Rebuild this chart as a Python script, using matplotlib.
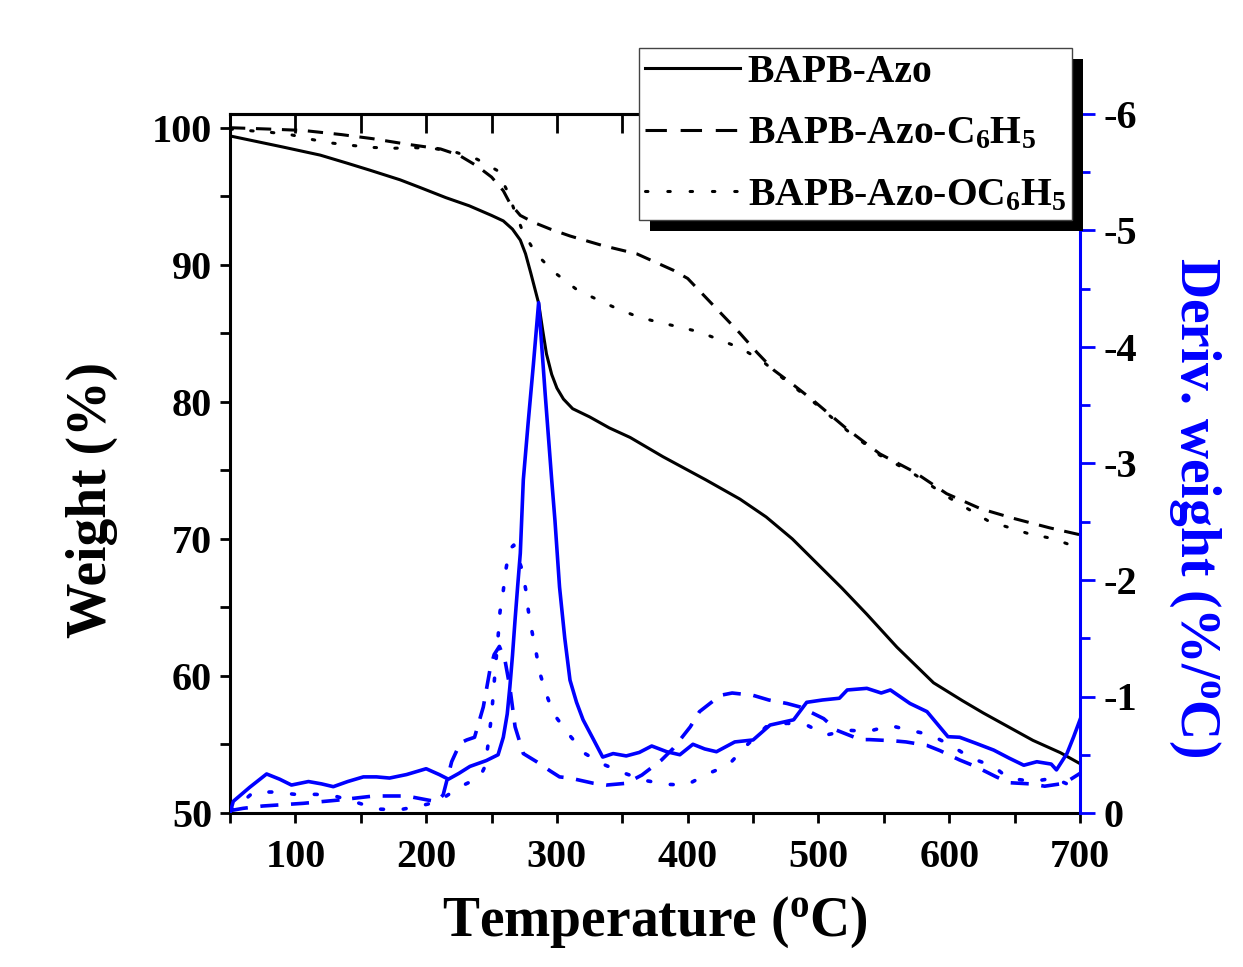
import matplotlib
matplotlib.use("Agg")
import matplotlib.pyplot as plt
from matplotlib.ticker import MultipleLocator
from matplotlib.patches import Rectangle
from matplotlib.lines import Line2D

plt.rcParams['font.family'] = ['Liberation Serif', 'DejaVu Serif']
plt.rcParams['font.weight'] = 'bold'
plt.rcParams['mathtext.fontset'] = 'custom'
plt.rcParams['mathtext.rm'] = 'Liberation Serif:bold'
plt.rcParams['mathtext.it'] = 'Liberation Serif:bold'
plt.rcParams['mathtext.bf'] = 'Liberation Serif:bold'
plt.rcParams['axes.unicode_minus'] = False

# ---------------- data ----------------
labels = ["BAPB-Azo", r"BAPB-Azo-C$\mathrm{_6}$H$\mathrm{_5}$", r"BAPB-Azo-OC$\mathrm{_6}$H$\mathrm{_5}$"]

# TGA weight curves
t_azo = [50, 70, 90, 119, 140, 157, 180, 195, 215, 233, 250, 259, 266, 272, 276, 280, 283, 286, 289,
         292, 296, 300, 305, 312, 325, 340, 356, 381, 414, 440, 460, 480, 499, 518, 537, 560, 588,
         610, 626, 645, 664, 685, 700]
w_azo = [99.4, 99.0, 98.6, 98.0, 97.4, 96.9, 96.2, 95.65, 94.9, 94.3, 93.6, 93.2, 92.6, 91.8, 90.8,
         89.4, 88.3, 87.2, 85.3, 83.5, 82.0, 81.0, 80.2, 79.5, 78.9, 78.1, 77.4, 76.0, 74.3, 72.9,
         71.6, 70.0, 68.2, 66.4, 64.5, 62.1, 59.5, 58.2, 57.3, 56.3, 55.3, 54.4, 53.6]

t_c6 = [50, 80, 106, 135, 159, 185, 211, 225, 239, 250, 259, 264, 272, 282, 295, 310, 335, 361, 389,
        400, 414, 427, 440, 453, 466, 480, 496, 522, 547, 573, 598, 624, 649, 677, 700]
w_c6 = [100.0, 99.9, 99.8, 99.5, 99.2, 98.8, 98.45, 98.0, 97.2, 96.4, 95.4, 94.5, 93.6, 93.1, 92.6,
        92.1, 91.4, 90.8, 89.6, 89.0, 87.6, 86.3, 85.0, 83.6, 82.3, 81.3, 80.1, 78.0, 76.2, 74.9,
        73.3, 72.2, 71.5, 70.8, 70.3]

t_oc6 = [50, 81, 96, 111, 126, 144, 159, 175, 190, 208, 223, 239, 254, 262, 267, 274, 284, 298, 315,
         330, 346, 362, 378, 394, 409, 425, 441, 458, 473, 496, 522, 547, 572, 600, 630, 660, 680, 700]
w_oc6 = [99.9, 99.66, 99.5, 99.17, 98.9, 98.7, 98.56, 98.5, 98.55, 98.45, 98.2, 97.7, 96.9, 95.4,
         94.1, 92.4, 90.8, 89.45, 88.2, 87.5, 86.8, 86.2, 85.8, 85.45, 85.1, 84.5, 83.9, 82.9, 81.7,
         80.0, 77.9, 76.1, 74.8, 73.0, 71.3, 70.4, 70.0, 69.3]

# DTG derivative curves
td_azo = [50, 52.5, 65, 78, 88, 97, 110, 120, 129, 140, 152, 162, 172, 185, 200, 210, 217, 225,
          233.5, 246, 255, 259, 262, 264, 266, 268, 270, 272, 274.3, 278, 282, 286, 291, 296, 298.5,
          302, 306, 310, 315, 320, 328, 335, 343, 353, 363, 372.5, 384, 394, 404, 413, 422, 436, 450,
          463, 481, 491, 503, 516, 522, 537, 548, 555, 570, 583, 599, 608, 620, 634, 646, 657, 667,
          678, 682, 690, 695, 700]
d_azo = [0.0, -0.10, -0.22, -0.335, -0.29, -0.24, -0.27, -0.25, -0.226, -0.27, -0.31, -0.31, -0.30,
         -0.33, -0.38, -0.33, -0.29, -0.34, -0.40, -0.45, -0.50, -0.65, -0.85, -1.08, -1.35, -1.66,
         -1.95, -2.23, -2.86, -3.35, -3.85, -4.38, -3.60, -2.86, -2.51, -1.94, -1.50, -1.14, -0.95,
         -0.80, -0.63, -0.48, -0.51, -0.49, -0.52, -0.575, -0.526, -0.50, -0.59, -0.55, -0.526,
         -0.61, -0.627, -0.755, -0.80, -0.95, -0.97, -0.985, -1.056, -1.07, -1.03, -1.056, -0.94,
         -0.87, -0.655, -0.65, -0.60, -0.54, -0.47, -0.41, -0.44, -0.42, -0.37, -0.51, -0.65, -0.80]

td_c6 = [50, 60, 75, 106, 132, 160, 185, 208, 213, 219.5, 226, 231, 237, 243.7, 248.8, 252, 256,
         260.3, 264, 268, 274.3, 284.5, 295, 302, 310, 328, 338, 353, 365, 380, 389, 402, 409, 425,
         434, 450, 462, 476, 486, 504, 514, 532, 539, 557, 567, 583, 593, 608, 620, 636, 646, 662,
         673, 688, 700]
d_c6 = [-0.02, -0.04, -0.06, -0.083, -0.11, -0.146, -0.146, -0.097, -0.155, -0.44, -0.60, -0.627,
        -0.65, -0.91, -1.23, -1.36, -1.43, -1.31, -1.08, -0.74, -0.51, -0.44, -0.36, -0.31, -0.30,
        -0.255, -0.24, -0.255, -0.326, -0.455, -0.555, -0.74, -0.87, -1.01, -1.03, -1.01, -0.97,
        -0.94, -0.91, -0.81, -0.71, -0.63, -0.63, -0.62, -0.61, -0.58, -0.535, -0.455, -0.40,
        -0.31, -0.26, -0.25, -0.23, -0.255, -0.34]

td_oc6 = [50, 58, 68, 83, 100, 116, 132, 147, 163, 179, 195, 209, 226, 241, 245, 247.5, 250, 251.4,
          252.6, 255.2, 256.5, 259, 261, 263.6, 267, 273, 276.3, 278.1, 280.7, 284, 287, 291.6,
          297.2, 308.7, 321.5, 335, 352, 367, 384, 399, 416, 431, 445, 460, 476, 491, 506, 523, 538,
          555, 570, 586, 602, 617, 634, 645, 664, 680, 690, 700]
d_oc6 = [-0.02, -0.08, -0.18, -0.18, -0.16, -0.16, -0.14, -0.09, -0.034, -0.026, -0.06, -0.097,
         -0.226, -0.306, -0.40, -0.60, -0.84, -1.03, -1.20, -1.54, -1.73, -1.91, -2.09, -2.26, -2.30,
         -2.10, -1.91, -1.74, -1.57, -1.385, -1.20, -1.03, -0.856, -0.68, -0.51, -0.42, -0.34,
         -0.28, -0.246, -0.24, -0.34, -0.41, -0.58, -0.74, -0.77, -0.755, -0.67, -0.71, -0.70,
         -0.75, -0.71, -0.67, -0.575, -0.47, -0.40, -0.30, -0.27, -0.30, -0.25, -0.355]

x_ticks = [100, 200, 300, 400, 500, 600, 700]
w_ticks = [50, 60, 70, 80, 90, 100]
d_ticks = [0, -1, -2, -3, -4, -5, -6]

# ---------------- figure ----------------
W, H = 1243, 967
fig = plt.figure(figsize=(W / 100, H / 100), dpi=100)
ax = fig.add_axes([230 / W, 1 - 813 / H, 850 / W, 699 / H])
ax2 = ax.twinx()

blue = '#0000FF'
dash_k = (0, (5, 3.5))
dot_k = (0, (0.8, 6))
ax.plot(t_azo, w_azo, color='k', lw=2.2, solid_capstyle='round')
ax.plot(t_c6, w_c6, color='k', lw=2.2, linestyle=dash_k)
ax.plot(t_oc6, w_oc6, color='k', lw=2.2, linestyle=dot_k, dash_capstyle='round')

ax2.plot(td_azo, d_azo, color=blue, lw=2.6)
ax2.plot(td_c6, d_c6, color=blue, lw=2.6, linestyle=(0, (5, 3.5)))
ax2.plot(td_oc6, d_oc6, color=blue, lw=2.6, linestyle=(0, (0.8, 5.5)), dash_capstyle='round')

ax.set_xlim(50, 700)
ax.set_ylim(50, 101)
ax2.set_ylim(0, -6)

ax.set_xticks(x_ticks)
ax.xaxis.set_minor_locator(MultipleLocator(50))
ax.set_yticks(w_ticks)
ax.yaxis.set_minor_locator(MultipleLocator(5))
ax2.set_yticks(d_ticks)
ax2.yaxis.set_minor_locator(MultipleLocator(0.5))

for s in ['left', 'bottom', 'top']:
    ax.spines[s].set_linewidth(2.2)
ax.spines['right'].set_visible(False)
for s in ['left', 'bottom', 'top']:
    ax2.spines[s].set_visible(False)
ax2.spines['right'].set_color(blue)
ax2.spines['right'].set_linewidth(2.2)

ax.tick_params(axis='x', which='both', direction='out', length=7, width=2, top=False,
               labelsize=29, pad=12)
ax.tick_params(axis='y', which='both', direction='out', length=7, width=2, labelsize=29, pad=6)
ax2.tick_params(axis='y', which='major', direction='out', length=11, width=2, color=blue,
                labelcolor='k', labelsize=29, pad=6)
ax2.tick_params(axis='y', which='minor', direction='out', length=7, width=2, color=blue)

top = ax.secondary_xaxis('top')
top.set_xticks(x_ticks)
top.xaxis.set_minor_locator(MultipleLocator(50))
top.tick_params(axis='x', which='both', direction='in', length=14, width=2, labeltop=False)
top.spines['top'].set_linewidth(2.2)

for t in ax.get_xticklabels() + ax.get_yticklabels() + ax2.get_yticklabels():
    t.set_fontweight('bold')

ax.set_xlabel(r"Temperature ($\mathrm{^o}$C)", fontsize=40, fontweight='bold')
ax.set_ylabel("Weight (%)", fontsize=40, fontweight='bold')
ax2.set_ylabel(r"Deriv. weight (%/$\mathrm{^o}$C)", fontsize=40, fontweight='bold', color=blue,
               rotation=-90)
ax.xaxis.set_label_coords((655 - 230) / 850, (813 - 922) / 699)
ax.xaxis.label.set_va('center')
ax.yaxis.set_label_coords((92 - 230) / 850, (813 - 500) / 699)
ax.yaxis.label.set_va('center')
ax2.yaxis.set_label_coords((1195 - 230) / 850, (813 - 507) / 699)
ax2.yaxis.label.set_va('center')

# legend
handles = [Line2D([], [], color='k', lw=2.2),
           Line2D([], [], color='k', lw=2.2, linestyle=(0, (7, 4.5))),
           Line2D([], [], color='k', lw=2.2, linestyle=(0, (0.8, 6.5)), dash_capstyle='round')]
leg = fig.legend(handles, labels, loc='upper left', bbox_to_anchor=(639 / W, 1 - 48 / H),
                 frameon=True, fancybox=False, borderpad=0.15, handlelength=2.4,
                 handletextpad=0.2, labelspacing=0.62, borderaxespad=0.0, framealpha=1.0,
                 prop={'weight': 'bold', 'size': 28.5})
leg.get_frame().set_edgecolor('#444444')
leg.get_frame().set_linewidth(1.0)
leg.get_frame().set_facecolor('white')
leg.set_zorder(10)

fig.canvas.draw()
bb = leg.get_window_extent()
shadow = Rectangle((bb.x0 + 11, bb.y0 - 11), bb.width, bb.height, transform=None,
                   facecolor='k', edgecolor='none', zorder=9)
fig.patches.append(shadow)
shadow.set_figure(fig)

fig.savefig("out.png", dpi=100, facecolor='white')
